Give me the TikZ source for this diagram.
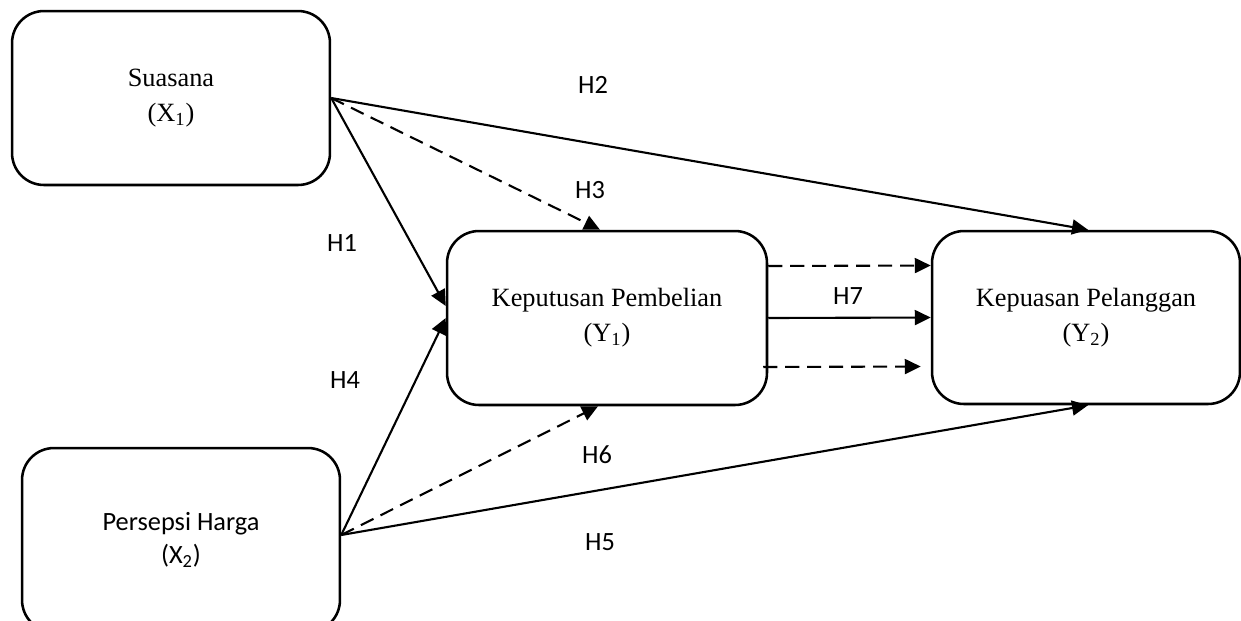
\documentclass[tikz,border=0pt]{standalone}
\usepackage{fontspec}
\setmainfont{Liberation Serif}
\newfontfamily\calibri{Carlito}
\usetikzlibrary{arrows.meta,calc}
\tikzset{
  box/.style={draw, line width=1.45pt, rounded corners=0.64cm, align=center, inner sep=0pt,
    font=\fontsize{15}{19.8}\selectfont},
  conn/.style={line width=1.2pt, -{Triangle[length=0.32cm,width=0.3cm]}},
  dconn/.style={conn, dash pattern=on 8pt off 4.5pt},
  hlab/.style={font=\calibri\fontsize{15}{18}\selectfont, inner sep=0pt}
}
\begin{document}
\begin{tikzpicture}[x=0.02cm,y=-0.02cm]
\useasboundingbox (0,0) rectangle (1241,620);
\node[box, minimum width=6.36cm, minimum height=3.48cm] (suasana) at (171,98) {Suasana\\(X\textsubscript{1})};
\node[box, minimum width=6.4cm, minimum height=3.48cm] (keputusan) at (607,318) {Keputusan Pembelian\\(Y\textsubscript{1})};
\node[box, minimum width=6.16cm, minimum height=3.46cm] (kepuasan) at (1086,317.5) {Kepuasan Pelanggan\\(Y\textsubscript{2})};
\node[box, minimum width=6.36cm, minimum height=3.68cm, font=\calibri\fontsize{15}{19.8}\selectfont] (persepsi) at (181,540) {\raisebox{4pt}{\begin{tabular}{@{}c@{}}Persepsi Harga\\[-1.3pt](X\textsubscript{2})\end{tabular}}};
\coordinate (pout) at ($(persepsi.east)+(0,-5)$);

\draw[conn] (suasana.east) -- ($(keputusan.west)+(0,-12)$);
\draw[conn] (suasana.east) -- ($(kepuasan.north)+(2,0)$);
\draw[dconn] (suasana.east) -- ($(keputusan.north)+(-7,0)$);
\draw[conn] (pout) -- (keputusan.west);
\draw[conn] (pout) -- ($(kepuasan.south)+(2,0)$);
\draw[dconn] (pout) -- ($(keputusan.south)+(-9,0)$);
\draw[conn] (keputusan.east) -- (kepuasan.west);
\draw[dconn] ($(keputusan.east)+(0,-52)$) -- ($(kepuasan.west)+(0,-52)$);
\draw[dconn] ($(keputusan.east)+(-5,49)$) -- ($(kepuasan.west)+(-10,49)$);

\node[hlab] (h1) at (342,243) {H1};
\node[hlab] (h2) at (593,85) {H2};
\node[hlab] (h3) at (590,190) {H3};
\node[hlab] (h4) at (345,380) {H4};
\node[hlab] (h5) at (600,542) {H5};
\node[hlab] (h6) at (597,455) {H6};
\node[hlab] (h7) at (848,296) {H7};
\end{tikzpicture}
\end{document}
